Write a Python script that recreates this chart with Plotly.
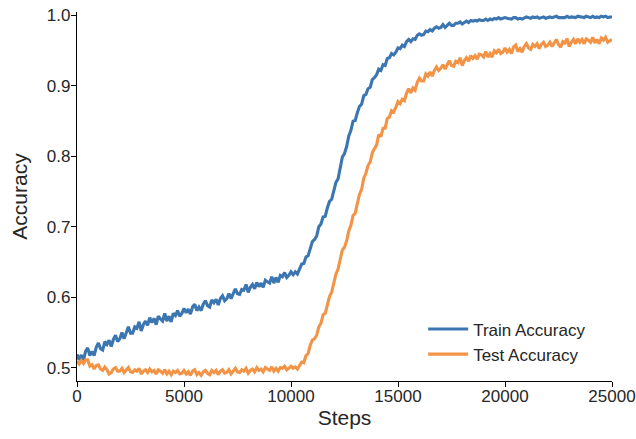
import plotly.graph_objects as go

# Steps (every 100 steps from 0 to 25000)
steps = list(range(0, 25001, 100))

train_acc = [
    0.519, 0.511, 0.518, 0.510, 0.523, 0.528, 0.517, 0.523, 0.517, 0.529,
    0.535, 0.527, 0.525, 0.537, 0.533, 0.539, 0.530, 0.540, 0.546, 0.537,
    0.541, 0.550, 0.541, 0.549, 0.558, 0.549, 0.549, 0.558, 0.556, 0.565,
    0.552, 0.561, 0.566, 0.560, 0.571, 0.564, 0.570, 0.561, 0.573, 0.569,
    0.566, 0.577, 0.566, 0.573, 0.565, 0.577, 0.574, 0.581, 0.573, 0.577,
    0.584, 0.578, 0.583, 0.576, 0.586, 0.590, 0.581, 0.586, 0.581, 0.590,
    0.595, 0.588, 0.586, 0.596, 0.592, 0.597, 0.589, 0.598, 0.602, 0.595,
    0.598, 0.605, 0.598, 0.605, 0.612, 0.605, 0.604, 0.611, 0.610, 0.618,
    0.607, 0.614, 0.618, 0.612, 0.621, 0.615, 0.620, 0.614, 0.624, 0.622,
    0.620, 0.629, 0.620, 0.628, 0.621, 0.631, 0.629, 0.635, 0.628, 0.631,
    0.636, 0.632, 0.636, 0.633, 0.640, 0.647, 0.648, 0.657, 0.659, 0.670,
    0.679, 0.682, 0.687, 0.700, 0.704, 0.714, 0.715, 0.727, 0.736, 0.739,
    0.750, 0.763, 0.768, 0.783, 0.799, 0.804, 0.814, 0.829, 0.837, 0.850,
    0.851, 0.862, 0.871, 0.874, 0.886, 0.888, 0.896, 0.898, 0.909, 0.912,
    0.916, 0.924, 0.922, 0.930, 0.929, 0.939, 0.940, 0.946, 0.944, 0.948,
    0.954, 0.953, 0.958, 0.956, 0.963, 0.966, 0.963, 0.967, 0.966, 0.972,
    0.974, 0.972, 0.973, 0.978, 0.977, 0.980, 0.978, 0.982, 0.984, 0.982,
    0.983, 0.987, 0.983, 0.986, 0.989, 0.986, 0.986, 0.989, 0.989, 0.991,
    0.988, 0.990, 0.992, 0.990, 0.993, 0.992, 0.993, 0.992, 0.994, 0.993,
    0.993, 0.995, 0.993, 0.995, 0.994, 0.996, 0.995, 0.997, 0.995, 0.996,
    0.997, 0.996, 0.996, 0.995, 0.997, 0.997, 0.995, 0.996, 0.995, 0.996,
    0.998, 0.997, 0.996, 0.998, 0.997, 0.998, 0.996, 0.997, 0.998, 0.996,
    0.997, 0.998, 0.997, 0.998, 0.999, 0.997, 0.997, 0.998, 0.997, 0.999,
    0.997, 0.998, 0.998, 0.997, 0.999, 0.998, 0.998, 0.997, 0.999, 0.998,
    0.997, 0.999, 0.997, 0.998, 0.997, 0.999, 0.998, 0.999, 0.997, 0.998,
    0.998,
]

test_acc = [
    0.509, 0.505, 0.510, 0.506, 0.511, 0.511, 0.502, 0.504, 0.498, 0.503,
    0.504, 0.498, 0.496, 0.501, 0.497, 0.491, 0.493, 0.498, 0.500, 0.495,
    0.495, 0.499, 0.493, 0.497, 0.500, 0.494, 0.493, 0.497, 0.495, 0.499,
    0.491, 0.495, 0.497, 0.493, 0.498, 0.494, 0.496, 0.491, 0.497, 0.495,
    0.492, 0.497, 0.491, 0.495, 0.490, 0.495, 0.493, 0.496, 0.491, 0.492,
    0.496, 0.491, 0.494, 0.489, 0.495, 0.497, 0.490, 0.493, 0.489, 0.494,
    0.496, 0.492, 0.490, 0.496, 0.493, 0.496, 0.490, 0.495, 0.497, 0.492,
    0.493, 0.497, 0.491, 0.495, 0.499, 0.494, 0.493, 0.497, 0.495, 0.499,
    0.492, 0.496, 0.498, 0.494, 0.500, 0.496, 0.498, 0.494, 0.500, 0.498,
    0.496, 0.501, 0.495, 0.499, 0.495, 0.500, 0.499, 0.502, 0.497, 0.499,
    0.502, 0.499, 0.501, 0.498, 0.504, 0.508, 0.507, 0.517, 0.520, 0.532,
    0.539, 0.541, 0.546, 0.558, 0.563, 0.575, 0.577, 0.590, 0.601, 0.607,
    0.619, 0.633, 0.640, 0.653, 0.667, 0.671, 0.680, 0.694, 0.702, 0.716,
    0.719, 0.733, 0.746, 0.753, 0.769, 0.776, 0.787, 0.792, 0.805, 0.811,
    0.816, 0.831, 0.828, 0.840, 0.840, 0.854, 0.856, 0.865, 0.863, 0.870,
    0.878, 0.875, 0.881, 0.879, 0.890, 0.896, 0.890, 0.897, 0.894, 0.905,
    0.911, 0.907, 0.907, 0.917, 0.914, 0.920, 0.914, 0.922, 0.927, 0.922,
    0.925, 0.930, 0.924, 0.930, 0.936, 0.929, 0.928, 0.935, 0.933, 0.940,
    0.929, 0.936, 0.940, 0.935, 0.943, 0.939, 0.943, 0.938, 0.945, 0.944,
    0.941, 0.949, 0.941, 0.946, 0.941, 0.950, 0.947, 0.952, 0.946, 0.948,
    0.954, 0.948, 0.952, 0.946, 0.955, 0.958, 0.949, 0.953, 0.948, 0.956,
    0.960, 0.954, 0.952, 0.959, 0.956, 0.960, 0.953, 0.959, 0.962, 0.956,
    0.958, 0.962, 0.956, 0.961, 0.966, 0.959, 0.955, 0.963, 0.961, 0.967,
    0.956, 0.962, 0.966, 0.960, 0.967, 0.962, 0.966, 0.960, 0.967, 0.965,
    0.962, 0.969, 0.961, 0.966, 0.960, 0.968, 0.965, 0.969, 0.962, 0.964,
    0.966,
]

x_ticks = [0, 5000, 10000, 15000, 20000, 25000]
x_tick_labels = ["0", "5000", "10000", "15000", "20000", "25000"]
y_ticks = [0.5, 0.6, 0.7, 0.8, 0.9, 1.0]
y_tick_labels = ["0.5", "0.6", "0.7", "0.8", "0.9", "1.0"]

BLUE = "#3c76b1"
ORANGE = "#f29345"
TEXT = "#262626"

fig = go.Figure()
fig.add_trace(go.Scatter(x=steps, y=train_acc, mode="lines", name="Train Accuracy",
                         line=dict(color=BLUE, width=3.1)))
fig.add_trace(go.Scatter(x=steps, y=test_acc, mode="lines", name="Test Accuracy",
                         line=dict(color=ORANGE, width=3.1)))

fig.update_layout(
    width=636, height=439,
    margin=dict(l=77, r=24, t=12, b=58),
    paper_bgcolor="white", plot_bgcolor="white",
    font=dict(family="Liberation Sans, Arial, sans-serif", size=17, color=TEXT),
    showlegend=True,
    hovermode=False,
    legend=dict(x=0.647, y=0.1057, xanchor="left", yanchor="middle",
                bgcolor="rgba(0,0,0,0)", font=dict(size=17, color=TEXT),
                itemwidth=40),
    xaxis=dict(range=[0, 25000], tickvals=x_ticks, ticktext=x_tick_labels,
               ticks="outside", ticklen=5, tickwidth=1.2, tickcolor="black",
               showline=True, linecolor="black", linewidth=1.2, showgrid=False,
               zeroline=False, automargin=False, ticklabelstandoff=-6,
               ticklabeloverflow="allow",
               title=dict(text="Steps", font=dict(size=21), standoff=5)),
    yaxis=dict(range=[0.481, 1.005], tickvals=y_ticks, ticktext=y_tick_labels,
               ticks="outside", ticklen=5, tickwidth=1.2, tickcolor="black",
               showline=True, linecolor="black", linewidth=1.2, showgrid=False,
               zeroline=False, automargin=False, ticklabelstandoff=-3,
               ticklabeloverflow="allow",
               title=dict(text="Accuracy", font=dict(size=21), standoff=13)),
)

fig.write_html(
    "out.html",
    config={"displayModeBar": False},
    post_script="document.body.style.margin='0';document.body.style.overflow='hidden';",
)
